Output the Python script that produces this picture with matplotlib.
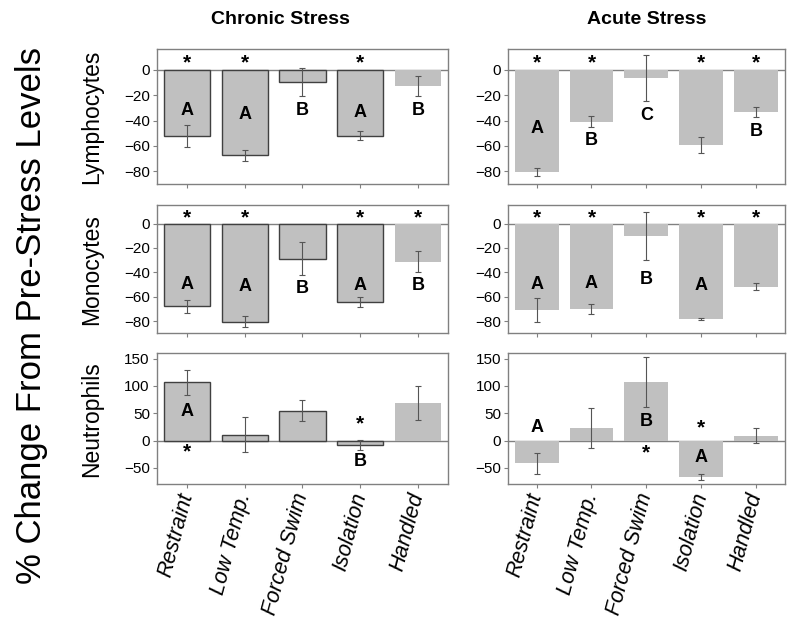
import numpy as np
import matplotlib
matplotlib.use("Agg")
import matplotlib.pyplot as plt

plt.rcParams['font.family'] = ['Liberation Sans', 'DejaVu Sans']

categories = ["Restraint", "Low Temp.", "Forced Swim", "Isolation", "Handled"]
row_names = ["Lymphocytes", "Monocytes", "Neutrophils"]
col_names = ["Chronic Stress", "Acute Stress"]

# mean % change and error
chronic_lymph = [-52, -67.5, -10, -52, -13]
chronic_lymph_err = [8.7, 4, 11, 3.5, 8]
acute_lymph = [-80.5, -41, -6.7, -59, -33.3]
acute_lymph_err = [3, 4.3, 18, 6.3, 3.8]

chronic_mono = [-67.7, -80.5, -28.8, -64.4, -31.2]
chronic_mono_err = [5.3, 4.3, 13.6, 4.1, 8.4]
acute_mono = [-70.9, -69.8, -10.2, -78.6, -51.8]
acute_mono_err = [9.8, 4.1, 19.5, 0.8, 3.1]

chronic_neut = [106.7, 11, 54.9, -7.9, 68.3]
chronic_neut_err = [23, 32.6, 19.2, 8.8, 30.8]
acute_neut = [-41.7, 23.3, 106.7, -66.9, 9.2]
acute_neut_err = [19.3, 36.8, 45.4, 5.2, 12.9]

# group letters and where they sit
chronic_lymph_letters = ["A", "A", "B", "A", "B"]
chronic_lymph_letter_y = [-32, -35, -32, -34, -32]
acute_lymph_letters = ["A", "B", "C", "", "B"]
acute_lymph_letter_y = [-46, -56, -36, 0, -49]
chronic_mono_letters = ["A", "A", "B", "A", "B"]
chronic_mono_letter_y = [-50, -52, -53, -51, -51]
acute_mono_letters = ["A", "A", "B", "A", ""]
acute_mono_letter_y = [-50, -49, -46, -51, 0]
chronic_neut_letters = ["A", "", "", "B", ""]
chronic_neut_letter_y = [53, 0, 0, -38, 0]
acute_neut_letters = ["A", "", "B", "A", ""]
acute_neut_letter_y = [23, 0, 34, -31, 0]

# significance stars (empty = none)
chronic_lymph_stars = ["*", "*", "", "*", ""]
chronic_lymph_star_y = [5, 5, 0, 5, 0]
acute_lymph_stars = ["*", "*", "", "*", "*"]
acute_lymph_star_y = [5, 5, 0, 5, 5]
chronic_mono_stars = ["*", "*", "", "*", "*"]
chronic_mono_star_y = [5, 5, 0, 5, 5]
acute_mono_stars = ["*", "*", "", "*", "*"]
acute_mono_star_y = [5, 5, 0, 5, 5]
chronic_neut_stars = ["*", "", "", "*", ""]
chronic_neut_star_y = [-20, 0, 0, 30, 0]
acute_neut_stars = ["", "", "*", "*", ""]
acute_neut_star_y = [0, 0, -22, 23, 0]

panels = [
    [(chronic_lymph, chronic_lymph_err, chronic_lymph_letters, chronic_lymph_letter_y, chronic_lymph_stars, chronic_lymph_star_y),
     (acute_lymph, acute_lymph_err, acute_lymph_letters, acute_lymph_letter_y, acute_lymph_stars, acute_lymph_star_y)],
    [(chronic_mono, chronic_mono_err, chronic_mono_letters, chronic_mono_letter_y, chronic_mono_stars, chronic_mono_star_y),
     (acute_mono, acute_mono_err, acute_mono_letters, acute_mono_letter_y, acute_mono_stars, acute_mono_star_y)],
    [(chronic_neut, chronic_neut_err, chronic_neut_letters, chronic_neut_letter_y, chronic_neut_stars, chronic_neut_star_y),
     (acute_neut, acute_neut_err, acute_neut_letters, acute_neut_letter_y, acute_neut_stars, acute_neut_star_y)],
]

fig = plt.figure(figsize=(8, 6.24), dpi=100)

col_x = [(0.196, 0.364), (0.635, 0.346)]
row_y = [(0.705, 0.216), (0.466, 0.205), (0.224, 0.210)]
ylims = [(-90, 16), (-90, 15), (-80, 160)]
yticks = [[-80, -60, -40, -20, 0], [-80, -60, -40, -20, 0], [-50, 0, 50, 100, 150]]
title_x = [0.35, 0.808]

grey = "#808080"
x = np.arange(len(categories))

for r in range(3):
    for c in range(2):
        vals, err, letters, letter_y, stars, star_y = panels[r][c]
        ax = fig.add_axes([col_x[c][0], row_y[r][0], col_x[c][1], row_y[r][1]])
        if c == 0:
            edges = ["#404040"] * 4 + ["none"]
        else:
            edges = ["none"] * 5
        ax.bar(x, vals, width=0.8, color="#c0c0c0", edgecolor=edges, linewidth=1.0, zorder=2)
        ax.errorbar(x, vals, yerr=err, fmt="none", ecolor="#555555", elinewidth=0.8,
                    capsize=2, capthick=0.8, zorder=3)
        ax.axhline(0, color=grey, lw=1, zorder=1)
        for i in range(len(categories)):
            if letters[i]:
                ax.text(x[i], letter_y[i], letters[i], ha="center", va="center",
                        fontsize=13, fontweight="bold", zorder=4)
            if stars[i]:
                ax.text(x[i], star_y[i], stars[i], ha="center", va="center",
                        fontsize=15, fontweight="bold", zorder=4)
        ax.set_xlim(-0.52, 4.52)
        ax.set_ylim(*ylims[r])
        ax.set_yticks(yticks[r])
        ax.tick_params(axis="y", labelsize=11, length=3, color=grey, pad=2)
        ax.tick_params(axis="x", length=3, color=grey)
        ax.set_xticks(x)
        if r == 2:
            ax.set_xticklabels(categories, rotation=75, fontsize=15.5, style="italic",
                               ha="right", va="center", rotation_mode="anchor")
        else:
            ax.set_xticklabels([])
        for s in ax.spines.values():
            s.set_color(grey)
            s.set_linewidth(1)
        if c == 0:
            fig.text(0.114, row_y[r][0] + row_y[r][1] / 2, row_names[r], rotation=90,
                     ha="center", va="center", fontsize=16.5)
        if r == 0:
            fig.text(title_x[c], 0.968, col_names[c], ha="center",
                     va="center", fontsize=14, fontweight="bold")

fig.text(0.04, 0.495, "% Change From Pre-Stress Levels", rotation=90,
         ha="center", va="center", fontsize=25)

fig.savefig("out.png", dpi=100)
